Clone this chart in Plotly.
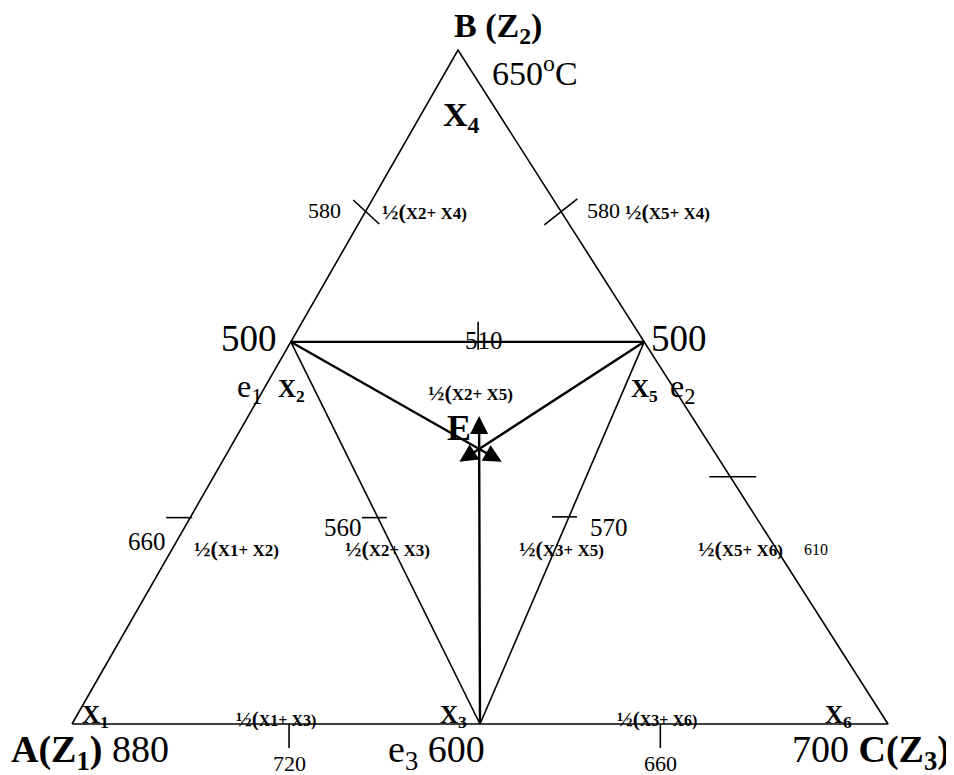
import plotly.graph_objects as go

# ---------------- data ----------------
# ternary compositions (fraction of A, B, C) of the invariant points
point_names = ["X1", "X2", "X3", "X4", "X5", "X6", "E"]
frac_A = [1.0, 0.433, 0.50, 0.0, 0.0, 0.0, 0.286]
frac_B = [0.0, 0.567, 0.00, 1.0, 0.567, 0.0, 0.408]
frac_C = [0.0, 0.000, 0.50, 0.0, 0.433, 1.0, 0.306]

# melting / eutectic temperatures (deg C)
vertex_labels = ["A(Z1)", "B (Z2)", "C(Z3)"]
vertex_temps = [880, 650, 700]
eutectic_temps = {"e1": 500, "e2": 500, "e3": 600}

# temperature marks on the boundary lines
mark_seg_start = ["X2", "X5", "X2", "X1", "X2", "X3", "X6", "X1", "X3"]
mark_seg_end = ["X4", "X4", "X5", "X2", "X3", "X5", "X5", "X3", "X6"]
mark_frac = [0.445, 0.445, 0.53, 0.54, 0.46, 0.542, 0.647, 0.532, 0.442]
mark_temps = [580, 580, 510, 660, 560, 570, 610, 720, 660]
mark_labels = ["½(X2+ X4)", "½(X5+ X4)", "½(X2+ X5)", "½(X1+ X2)", "½(X2+ X3)",
               "½(X3+ X5)", "½(X5+ X6)", "½(X1+ X3)", "½(X3+ X6)"]

# ---------------- geometry (layout) ----------------
VA, VB, VC = (72, 724), (458, 50), (888, 724)


def to_xy(a, b, c):
    return (a * VA[0] + b * VB[0] + c * VC[0], a * VA[1] + b * VB[1] + c * VC[1])


P = {n: to_xy(a, b, c) for n, a, b, c in zip(point_names, frac_A, frac_B, frac_C)}


def along(p, q, t):
    return (P[p][0] + t * (P[q][0] - P[p][0]), P[p][1] + t * (P[q][1] - P[p][1]))


FONT = "Liberation Serif, Times New Roman, serif"
fig = go.Figure()

# triangle outline
fig.add_trace(go.Scatter(
    x=[P["X1"][0], P["X4"][0], P["X6"][0], P["X1"][0]],
    y=[P["X1"][1], P["X4"][1], P["X6"][1], P["X1"][1]],
    mode="lines", line=dict(color="black", width=1.6), hoverinfo="skip"))

# compatibility lines X2-X3, X5-X3
xs, ys = [], []
for p, q in [("X2", "X3"), ("X5", "X3")]:
    xs += [P[p][0], P[q][0], None]
    ys += [P[p][1], P[q][1], None]
fig.add_trace(go.Scatter(x=xs, y=ys, mode="lines",
                         line=dict(color="black", width=1.6), hoverinfo="skip"))

# X2-X5 line
fig.add_trace(go.Scatter(x=[P["X2"][0], P["X5"][0]], y=[P["X2"][1], P["X5"][1]],
                         mode="lines", line=dict(color="black", width=2.2), hoverinfo="skip"))

# tick marks
xs, ys = [], []
for i, (s, e, t) in enumerate(zip(mark_seg_start, mark_seg_end, mark_frac)):
    cx, cy = along(s, e, t)
    if i == 0:      # perpendicular to AB
        segs = [(cx - 12, cy - 12), (cx + 14, cy + 12)]
    elif i == 1:    # perpendicular to BC
        segs = [(cx - 17, cy + 13), (cx + 16, cy - 13)]
    elif i == 2:
        segs = [(cx, cy - 20), (cx, cy + 8)]
    elif i == 3:
        segs = [(cx - 24, cy), (cx + 2, cy)]
    elif i == 4:
        segs = [(cx - 16, cy), (cx + 9, cy)]
    elif i == 5:
        segs = [(cx - 17, cy), (cx + 8, cy)]
    elif i == 6:
        segs = [(cx - 21, cy), (cx + 26, cy)]
    else:
        segs = [(cx, cy), (cx, cy + 24)]
    xs += [segs[0][0], segs[1][0], None]
    ys += [segs[0][1], segs[1][1], None]
fig.add_trace(go.Scatter(x=xs, y=ys, mode="lines",
                         line=dict(color="black", width=1.6), hoverinfo="skip"))

# crystallisation paths toward E (arrows)
for start in ["X2", "X5", "X3"]:
    ex, ey = P["E"]
    sx, sy = P[start]
    tip = (ex + 0.12 * (ex - sx), ey + 0.12 * (ey - sy))
    fig.add_annotation(x=tip[0], y=tip[1], ax=sx, ay=sy, xref="x", yref="y",
                       axref="x", ayref="y", showarrow=True, arrowhead=2,
                       arrowsize=1.5, arrowwidth=2.4, arrowcolor="black", text="")


def label(x, y, text, size, xanchor="center", bold=False):
    fig.add_annotation(x=x, y=y, xref="x", yref="y", text=("<b>%s</b>" % text) if bold else text,
                       showarrow=False, xanchor=xanchor, yanchor="middle",
                       font=dict(family=FONT, size=size, color="black"))


def half_label(x, y, text, big=22, small=17):
    a, b = text.split("(")
    label(x, y, "%s(<span style='font-size:%dpx'>%s</span>" % (a, small, b), big, bold=True)


# vertex labels
label(498, 28, "B (Z<sub>2</sub>)", 34, bold=True)
label(535, 71, "%d<sup>o</sup>C" % vertex_temps[1], 34)
label(461, 117, "X<sub>4</sub>", 34, bold=True)
label(9, 752, "<b>A(Z<sub>1</sub>)</b> %d" % vertex_temps[0], 38, xanchor="left")
label(952, 752, "%d <b>C(Z<sub>3</sub>)</b>" % vertex_temps[2], 38, xanchor="right")

# eutectic labels
label(249, 338, str(eutectic_temps["e1"]), 37)
label(679, 338, str(eutectic_temps["e2"]), 37)
label(249, 388, "e<sub>1</sub>", 32)
label(682, 388, "e<sub>2</sub>", 32)
label(291, 390, "X<sub>2</sub>", 25, bold=True)
label(644, 390, "X<sub>5</sub>", 25, bold=True)
label(436, 752, "e<sub>3</sub> %d" % eutectic_temps["e3"], 38)
label(459, 428, "E", 36, bold=True)

label(95, 716, "X<sub>1</sub>", 25, bold=True)
label(453, 716, "X<sub>3</sub>", 25, bold=True)
label(838, 716, "X<sub>6</sub>", 25, bold=True)

# temperature marks text
label(324, 210, str(mark_temps[0]), 22)
half_label(424, 211, mark_labels[0])
label(603, 210, str(mark_temps[1]), 22)
half_label(667, 211, mark_labels[1])
label(484, 340, str(mark_temps[2]), 25)
half_label(470, 392, mark_labels[2])
label(147, 541, str(mark_temps[3]), 25)
half_label(236, 548, mark_labels[3])
label(343, 527, str(mark_temps[4]), 25)
half_label(387, 548, mark_labels[4])
label(609, 527, str(mark_temps[5]), 25)
half_label(561, 548, mark_labels[5])
half_label(740, 548, mark_labels[6])
label(816, 549, str(mark_temps[6]), 16)
half_label(276, 719, mark_labels[7], 21, 16)
label(289, 763, str(mark_temps[7]), 22)
half_label(657, 719, mark_labels[8], 21, 16)
label(660, 763, str(mark_temps[8]), 22)

fig.update_layout(
    width=946, height=767, margin=dict(l=0, r=0, t=0, b=0),
    paper_bgcolor="white", plot_bgcolor="white", showlegend=False,
    xaxis=dict(range=[8, 954], visible=False, fixedrange=True),
    yaxis=dict(range=[775, 8], visible=False, fixedrange=True),
)
fig.write_html("out.html")
